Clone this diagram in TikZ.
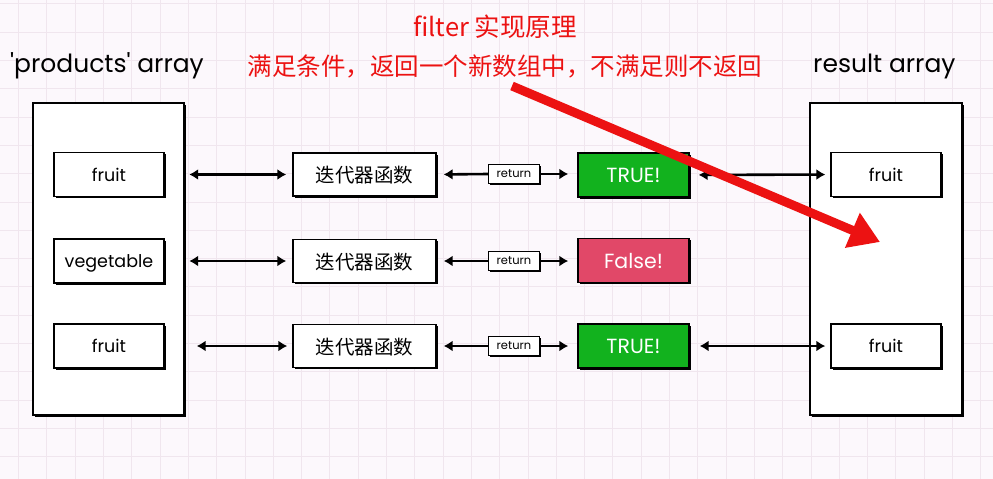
\documentclass[tikz,border=0pt]{standalone}
\usepackage{fontspec}
\setmainfont{Poppins}
\newfontfamily\cjk{Noto Sans CJK SC}
\usetikzlibrary{arrows.meta,shadows}
\definecolor{bgc}{RGB}{252,248,252}
\definecolor{gridc}{RGB}{240,230,238}
\definecolor{okgreen}{RGB}{18,178,30}
\definecolor{badred}{RGB}{225,72,104}
\definecolor{titred}{RGB}{236,18,18}
\tikzset{
  box/.style={draw=black, line width=1.3pt, fill=white, inner sep=0pt, text depth=0pt,
    drop shadow={shadow xshift=1.8pt, shadow yshift=-1.8pt, opacity=1, fill=black}},
  item/.style={box, minimum width=110pt, minimum height=44pt, font=\fontsize{17.5}{17.5}\selectfont},
  iter/.style={box, minimum width=143pt, minimum height=43pt, font=\cjk\fontsize{19.5}{20}\selectfont},
  ret/.style={box, line width=1pt, minimum width=51pt, minimum height=19pt, font=\fontsize{11.5}{11.5}\selectfont,
    drop shadow={shadow xshift=1pt, shadow yshift=-1pt, opacity=1, fill=black}},
  res/.style={box, minimum width=111pt, minimum height=44pt, text=white, font=\fontsize{20.5}{20.5}\selectfont},
  arr/.style={line width=2.6pt, -{Latex[length=9pt,width=11pt]}},
  dbl/.style={line width=2.6pt, {Latex[length=9pt,width=11pt]}-{Latex[length=9pt,width=11pt]}},
  lbl/.style={inner sep=0pt, font=\fontsize{25}{25}\selectfont},
  red/.style={inner sep=0pt, text=titred, font=\cjk\fontsize{25.5}{26}\selectfont}
}
\begin{document}
\begin{tikzpicture}[x=1pt,y=-1pt]
\useasboundingbox (0,0) rectangle (993,479);
\fill[bgc] (0,0) rectangle (993,479);
\foreach \i in {0,...,35} {\draw[gridc, line width=0.8pt] (18.5+28.3*\i,0) -- (18.5+28.3*\i,479);}
\foreach \j in {0,...,17} {\draw[gridc, line width=0.8pt] (0,3.8+28.3*\j) -- (993,3.8+28.3*\j);}

% titles
\node[red] (t1) at (495,27) {filter 实现原理};
\node[red, font=\cjk\fontsize{24.5}{25}\selectfont] (t2) at (505,66) {满足条件，返回一个新数组中，不满足则不返回};
\node[lbl, anchor=west] (pa) at (10,66) {\textquotesingle products\textquotesingle{} array};
\node[lbl, anchor=west] (ra) at (813,66) {result array};

% containers
\node[box, minimum width=151pt, minimum height=312pt] (LB) at (108.5,259) {};
\node[box, minimum width=152pt, minimum height=312pt] (RB) at (886,259) {};

% left items
\node[item] (L1) at (109,174.5) {fruit};
\node[item] (L2) at (109,261) {vegetable};
\node[item] (L3) at (109,346) {fruit};

% iterators
\node[iter] (I1) at (364.5,174.5) {迭代器函数};
\node[iter] (I2) at (364.5,261) {迭代器函数};
\node[iter] (I3) at (364.5,346) {迭代器函数};

% return labels
\node[ret] (R1) at (514,174) {return};
\node[ret] (R2) at (514,261) {return};
\node[ret] (R3) at (514,346) {return};

% results
\node[res, fill=okgreen] (T1) at (633.5,175) {TRUE!};
\node[res, fill=badred] (T2) at (633.5,260.5) {False!};
\node[res, fill=okgreen] (T3) at (633.5,346) {TRUE!};

% right items
\node[item] (F1) at (886,174.5) {fruit};
\node[item] (F3) at (886,346) {fruit};

% connectors
\draw[dbl, shorten <=4.5pt, shorten >=6pt] (LB.east |- L1) -- (I1.west);
\draw[dbl, shorten <=4.5pt, shorten >=6pt] (LB.east |- L2) -- (I2.west);
\draw[dbl, shorten <=12pt, shorten >=5pt] (LB.east |- L3) -- (I3.west);
\foreach \k in {1,2,3} {
  \draw[arr, shorten >=7pt] (R\k.west) -- (I\k.east);
  \draw[arr, shorten >=9pt] (R\k.east) -- (T\k.west |- R\k);
}
\draw[dbl, shorten <=9pt, shorten >=5pt] (T1.east) -- (F1.west);
\draw[dbl, shorten <=10pt, shorten >=5pt] (T3.east) -- (F3.west);

% red pointer
\coordinate (ps) at (512,86);
\coordinate (pe) at (880,242);
\draw[titred, line width=9pt, -{Triangle[length=30pt,width=36pt]}] (ps) -- (pe);
\end{tikzpicture}
\end{document}
